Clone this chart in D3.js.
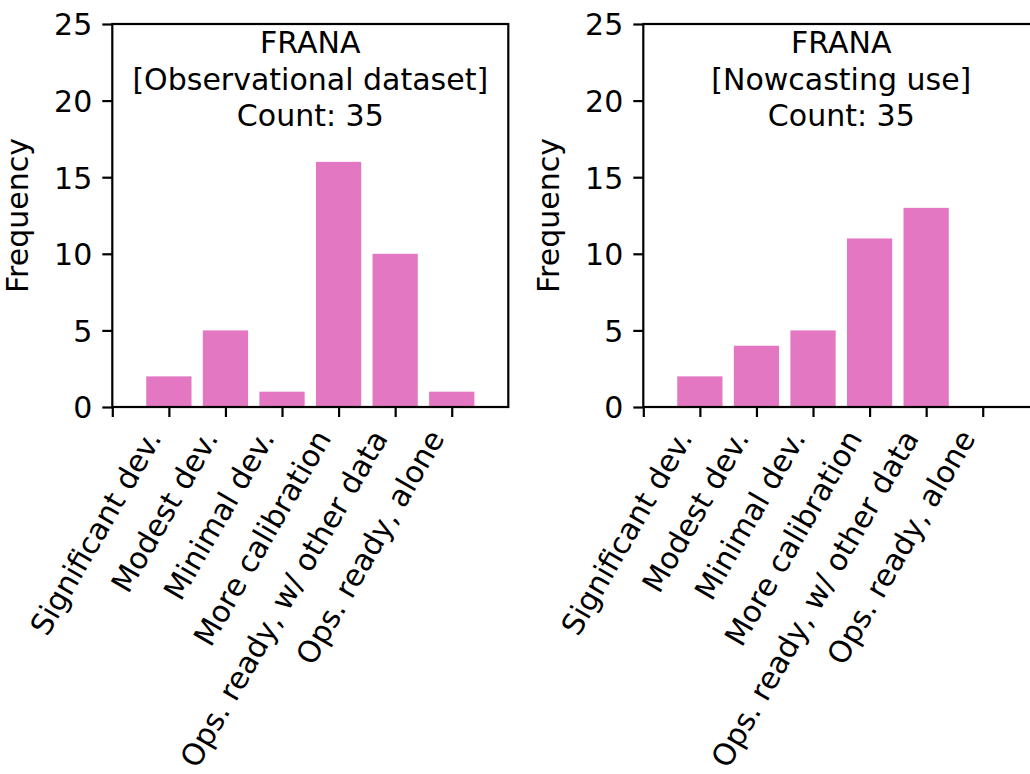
<!DOCTYPE html>
<html>
<head>
<meta charset="utf-8">
<script src="https://cdn.jsdelivr.net/npm/d3@7"></script>
<style>
  body { margin: 0; background: #fff; }
  svg { display: block; font-family: "DejaVu Sans", sans-serif; }
</style>
</head>
<body>
<div id="chart"></div>
<script>
// Data
const categories = ["Significant dev.", "Modest dev.", "Minimal dev.",
  "More calibration", "Ops. ready, w/ other data", "Ops. ready, alone"];
const obsValues = [2, 5, 1, 16, 10, 1];
const nowValues = [2, 4, 5, 11, 13, 0];
const yTicks = [0, 5, 10, 15, 20, 25];
const panelTitles = [
  ["FRANA", "[Observational dataset]", "Count: 35"],
  ["FRANA", "[Nowcasting use]", "Count: 35"]
];

// Layout
const svgWidth = 1030;
const svgHeight = 774;
const plotWidth = 396;
const plotTop = 24;
const plotBottom = 407;
const panelLefts = [112.3, 643.3];
const fontSize = 30;
const barColor = "#e377c2";

const svg = d3.select("#chart")
  .append("svg")
  .attr("width", svgWidth)
  .attr("height", svgHeight);

svg.append("rect")
  .attr("width", svgWidth)
  .attr("height", svgHeight)
  .attr("fill", "#fff");

const yScale = d3.scaleLinear()
  .domain([0, 25])
  .range([plotBottom, plotTop]);

function drawPanel(left, values, titleLines) {
  const g = svg.append("g").attr("transform", `translate(${left}, 0)`);

  const xScale = d3.scaleLinear()
    .domain([0, 7])
    .range([0, plotWidth]);

  const barWidth = xScale(0.8) - xScale(0);

  // bars
  g.selectAll("rect.bar")
    .data(values)
    .enter()
    .append("rect")
    .attr("class", "bar")
    .attr("x", (d, i) => xScale(i + 1) - barWidth / 2)
    .attr("y", d => yScale(d))
    .attr("width", barWidth)
    .attr("height", d => yScale(0) - yScale(d))
    .attr("fill", barColor);

  // frame
  g.append("rect")
    .attr("x", 0)
    .attr("y", plotTop)
    .attr("width", plotWidth)
    .attr("height", plotBottom - plotTop)
    .attr("fill", "none")
    .attr("stroke", "#000")
    .attr("stroke-width", 2.2);

  // x axis
  const xAxis = d3.axisBottom(xScale)
    .tickValues(d3.range(0, 7))
    .tickSize(10)
    .tickSizeOuter(0)
    .tickFormat(i => i === 0 ? "" : categories[i - 1]);

  const xg = g.append("g")
    .attr("transform", `translate(0, ${plotBottom})`)
    .call(xAxis);
  xg.select(".domain").remove();
  xg.selectAll(".tick line").attr("stroke", "#000").attr("stroke-width", 2.2);
  xg.selectAll(".tick text")
    .attr("x", 0)
    .attr("y", 0)
    .attr("dy", 0)
    .attr("transform", "translate(-7, 31) rotate(-60)")
    .style("text-anchor", "end")
    .style("font-size", fontSize + "px")
    .style("font-family", "DejaVu Sans")
    .attr("fill", "#000");

  // y axis
  const yAxis = d3.axisLeft(yScale)
    .tickValues(yTicks)
    .tickSize(10)
    .tickPadding(10)
    .tickSizeOuter(0);

  const yg = g.append("g").call(yAxis);
  yg.select(".domain").remove();
  yg.selectAll(".tick line").attr("stroke", "#000").attr("stroke-width", 2.2);
  yg.selectAll(".tick text")
    .attr("dy", "0.36em")
    .style("font-size", fontSize + "px")
    .style("font-family", "DejaVu Sans")
    .attr("fill", "#000");

  // y label
  g.append("text")
    .attr("transform", `translate(-84, ${(plotTop + plotBottom) / 2}) rotate(-90)`)
    .attr("text-anchor", "middle")
    .style("font-size", fontSize + "px")
    .text("Frequency");

  // title inside axes
  const title = g.append("text")
    .attr("text-anchor", "middle")
    .style("font-size", fontSize + "px");
  titleLines.forEach((line, i) => {
    title.append("tspan")
      .attr("x", xScale(3.5))
      .attr("y", 53.3 + i * 36.4)
      .text(line);
  });
}

drawPanel(panelLefts[0], obsValues, panelTitles[0]);
drawPanel(panelLefts[1], nowValues, panelTitles[1]);
</script>
</body>
</html>
